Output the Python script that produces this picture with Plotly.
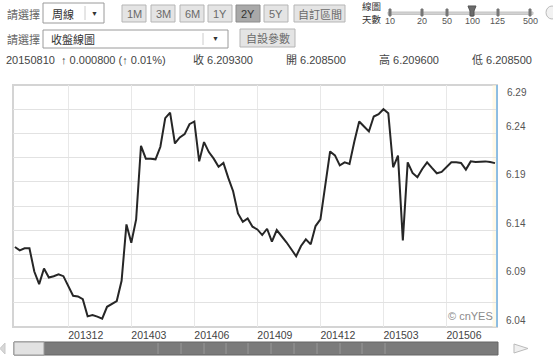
import plotly.graph_objects as go
import pandas as pd

# ---------------- data ----------------
last_week = "2015-08-10"
rate = [
    6.1227, 6.1192, 6.1213, 6.1213, 6.0973, 6.0843, 6.1004, 6.0911, 6.0925, 6.0945,
    6.0925, 6.0826, 6.0723, 6.0716, 6.0688, 6.0510, 6.0524, 6.0507, 6.0486, 6.0609,
    6.0637, 6.0668, 6.0877, 6.1460, 6.1271, 6.1511, 6.2272, 6.2139, 6.2139, 6.2132,
    6.2262, 6.2557, 6.2615, 6.2296, 6.2358, 6.2392, 6.2495, 6.2523, 6.2111, 6.2310,
    6.2207, 6.2139, 6.2056, 6.2094, 6.1940, 6.1803, 6.1573, 6.1487, 6.1522, 6.1436,
    6.1408, 6.1350, 6.1415, 6.1282, 6.1402, 6.1340, 6.1275, 6.1203, 6.1131, 6.1237,
    6.1306, 6.1254, 6.1443, 6.1511, 6.1871, 6.2214, 6.2173, 6.2070, 6.2101, 6.2084,
    6.2317, 6.2523, 6.2471, 6.2420, 6.2574, 6.2598, 6.2650, 6.2609, 6.2050, 6.2170,
    6.1295, 6.2101, 6.1991, 6.1947, 6.2032, 6.2101, 6.2043, 6.1988, 6.2002, 6.2050,
    6.2101, 6.2101, 6.2094, 6.2026, 6.2111, 6.2104, 6.2111, 6.2111, 6.2104, 6.2093,
]
weeks = pd.date_range(end=last_week, periods=len(rate), freq="7D")

x_tick_dates = ["2013-12-02", "2014-03-03", "2014-06-02", "2014-09-01",
                "2014-12-01", "2015-03-02", "2015-06-01"]
x_tick_labels = ["201312", "201403", "201406", "201409", "201412", "201503", "201506"]
y_grid = [6.04, 6.065, 6.09, 6.115, 6.14, 6.165, 6.19, 6.215, 6.24, 6.265, 6.29]
y_labels = ["6.04", "", "6.09", "", "6.14", "", "6.19", "", "6.24", "", ""]
y_top_label = "6.29"

quote_date = "20150810"
quote_change = "0.000800"
quote_pct = "0.01%"
quote_close = "6.209300"
quote_open = "6.208500"
quote_high = "6.209600"
quote_low = "6.208500"
period_buttons = ["1M", "3M", "6M", "1Y", "2Y", "5Y"]
active_period = "2Y"
slider_labels = ["10", "20", "50", "100", "125", "500"]
active_days = "100"

# ---------------- geometry helpers (page pixels -> paper) ----------------
W, H = 553, 356
ML, MR, MT, MB = 13, 56, 85, 29
PW, PH = W - ML - MR, H - MT - MB


def px(x):
    return (x - ML) / PW


def py(y):
    return (H - MB - y) / PH


shapes = []
annotations = []
SANS = "Liberation Sans, Arial, Noto Sans CJK TC, sans-serif"
CJK = "Noto Sans CJK TC, Liberation Sans, sans-serif"


def rect(x0, y0, x1, y1, fill, line="#999", lw=1, layer="above"):
    shapes.append(dict(type="rect", xref="paper", yref="paper",
                       x0=px(x0), x1=px(x1), y0=py(y1), y1=py(y0),
                       fillcolor=fill, line=dict(color=line, width=lw), layer=layer))


def vline(x, y0, y1, color, lw=1):
    shapes.append(dict(type="line", xref="paper", yref="paper",
                       x0=px(x), x1=px(x), y0=py(y0), y1=py(y1),
                       line=dict(color=color, width=lw), layer="above"))


def path(points, fill, line):
    d = "M " + " L ".join(f"{px(a):.5f},{py(b):.5f}" for a, b in points) + " Z"
    shapes.append(dict(type="path", xref="paper", yref="paper", path=d,
                       fillcolor=fill, line=dict(color=line, width=1), layer="above"))


def text(x, y, s, size=11, color="#555", anchor="left", family=SANS):
    annotations.append(dict(xref="paper", yref="paper", x=px(x), y=py(y), text=s,
                            showarrow=False, xanchor=anchor, yanchor="middle",
                            borderpad=0, font=dict(size=size, color=color, family=family)))


# ---------------- header controls ----------------
text(6, 13.5, "請選擇", 11, "#666", family=CJK)
rect(43, 3, 104, 23, "#ffffff", "#9a9a9a")
vline(85, 6, 20, "#cccccc")
text(51, 13.5, "周線", 11, "#333", family=CJK)
text(94.5, 13.5, "▼", 7, "#333", "center")

btn_x = [122, 151, 180, 208, 236, 264]
for bx, lab in zip(btn_x, period_buttons):
    on = lab == active_period
    rect(bx, 5, bx + 24, 22, "#a9a9a9" if on else "#e4e4e4", "#8c8c8c" if on else "#b5b5b5")
    text(bx + 12, 13.5, lab, 11, "#333" if on else "#6a6a6a", "center")
rect(294, 5, 345, 22, "#e4e4e4", "#b5b5b5")
text(319.5, 13.5, "自訂區間", 11, "#6a6a6a", "center", CJK)

text(361, 6.5, "線圖", 9.5, "#333", family=SANS)
text(361, 19.5, "天數", 9.5, "#333", family=SANS)
slider_x = [390, 422, 447, 472, 498, 530]
rect(388, 12, 533, 14.5, "#d2d2d2", "#c4c4c4", layer="above")
for sx, lab in zip(slider_x, slider_labels):
    rect(sx - 1, 9, sx + 1, 16, "#777777", "#777777")
    text(sx, 21.5, lab, 9, "#555", "center")
    if lab == active_days:
        path([(sx - 4, 6), (sx + 4, 6), (sx + 2, 11), (sx + 2, 16), (sx - 2, 16), (sx - 2, 11)],
             "#6b6b6b", "#555555")
shapes.append(dict(type="circle", xref="paper", yref="paper",
                   x0=px(546), x1=px(558), y0=py(19), y1=py(6),
                   fillcolor="#f2f2f2", line=dict(color="#bbbbbb", width=1), layer="above"))

text(6, 39, "請選擇", 11, "#666", family=CJK)
rect(43, 30, 228, 48, "#ffffff", "#9a9a9a")
vline(203, 33, 45, "#cccccc")
text(50, 39, "收盤線圖", 11, "#333", family=CJK)
text(215.5, 39, "▼", 7, "#333", "center")
rect(240, 29, 295, 47, "#e4e4e4", "#b5b5b5")
text(267.5, 38, "自設參數", 11, "#6a6a6a", "center", CJK)

text(5, 59.5, f"{quote_date}  ↑ {quote_change} (↑ {quote_pct})", 11, "#444")
text(192, 59.5, f"收 {quote_close}", 11, "#444")
text(285, 59.5, f"開 {quote_open}", 11, "#444")
text(378, 59.5, f"高 {quote_high}", 11, "#444")
text(471, 59.5, f"低 {quote_low}", 11, "#444")

# ---------------- plot frame / decorations ----------------
shapes.append(dict(type="rect", xref="paper", yref="paper", x0=0, x1=1, y0=0, y1=1,
                   line=dict(color="#d4d4d4", width=2), layer="below"))
rect(492.5, 85, 496.5, 327, "rgba(255,245,215,0.6)", "rgba(0,0,0,0)", 0, layer="below")
shapes.append(dict(type="line", xref="paper", yref="paper", x0=1, x1=1, y0=0, y1=1,
                   line=dict(color="#74b4e6", width=1.5), layer="above"))
annotations.append(dict(xref="paper", yref="paper", x=1, y=0, xshift=-2, yshift=3,
                        xanchor="right", yanchor="bottom", showarrow=False, text="© cnYES",
                        font=dict(size=11, color="#8a8a8a", family=SANS)))
annotations.append(dict(xref="paper", yref="y", x=1, y=6.29, xshift=8, yshift=0,
                        xanchor="left", yanchor="top", showarrow=False, text=y_top_label,
                        font=dict(size=10, color="#555", family=SANS)))

# ---------------- scrollbar ----------------
rect(14, 342, 498, 355, "#7b7b7b", "#666666")
rect(14, 342, 44, 355, "#e2e2e2", "#9a9a9a")
for sx in [158, 181, 204, 226, 248, 271, 294, 317, 340, 362, 385]:
    vline(sx, 343, 354, "#999999")
path([(5, 343), (0, 348.5), (5, 354)], "#d8d8d8", "#c8c8c8")
path([(514, 344), (528, 348.5), (514, 353)], "#f0f0f0", "#bbbbbb")

# ---------------- figure ----------------
fig = go.Figure(go.Scatter(x=weeks, y=rate, mode="lines",
                           line=dict(color="#262626", width=2), hoverinfo="skip"))

fig.update_layout(
    width=W, height=H,
    margin=dict(l=ML, r=MR, t=MT, b=MB, pad=0),
    paper_bgcolor="#ffffff", plot_bgcolor="#ffffff",
    showlegend=False,
    shapes=shapes, annotations=annotations,
    xaxis=dict(type="date", range=["2013-09-13 06:00", "2015-08-12 22:00"],
               tickmode="array", tickvals=x_tick_dates, ticktext=x_tick_labels,
               ticklabelposition="outside right", ticks="", showline=False,
               showgrid=True, gridcolor="#e8e8e8", gridwidth=1, zeroline=False,
               tickfont=dict(size=10.5, color="#444", family=SANS)),
    yaxis=dict(side="right", range=[6.04, 6.29], tickmode="array",
               tickvals=y_grid, ticktext=y_labels, ticklabelposition="outside top",
               ticks="", ticklabelstandoff=8, showline=False, zeroline=False,
               showgrid=True, gridcolor="#e2e2e2", gridwidth=1,
               tickfont=dict(size=10, color="#555", family=SANS)),
)

fig.write_html("out.html")
